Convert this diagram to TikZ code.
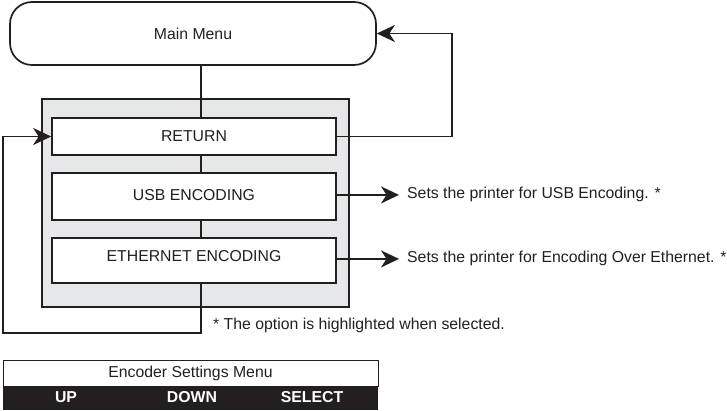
\documentclass[tikz,border=0pt]{standalone}
\usepackage{fontspec}
\setmainfont{Liberation Sans}
\usetikzlibrary{arrows.meta,calc}
\definecolor{ink}{HTML}{231F20}
\definecolor{panel}{HTML}{E6E7E8}
\begin{document}
\begin{tikzpicture}[x=1pt,y=-1pt,
  every node/.style={font=\fontsize{15.8}{19}\selectfont, text=ink},
  line/.style={draw=ink, line width=1.8pt},
  arr/.style={line, -{Stealth[length=18pt,width=17pt,inset=5.5pt]}},
  menubox/.style={draw=ink, line width=1.7pt, fill=white, minimum width=284pt, inner sep=0pt},
  sidetext/.style={anchor=base west, inner sep=0pt},
  barlabel/.style={text=white, font=\fontsize{15.8}{19}\selectfont\bfseries, inner sep=0pt}
]
\useasboundingbox (0,0) rectangle (727,411);
% main menu
\node[draw=ink, line width=1.7pt, rounded corners=22pt, minimum width=366pt, minimum height=63pt, inner sep=0pt] (mm) at (193,33.5) {Main Menu};
% grey panel
\node[draw=ink, line width=1.7pt, fill=panel, minimum width=307pt, minimum height=208pt, inner sep=0pt] (panel) at (195.5,203) {};
% options
\node[menubox, minimum height=37pt] (ret) at (194,136.5) {RETURN};
\node[menubox, minimum height=47pt, text depth=4pt] (usb) at (194,196.5) {USB ENCODING};
\node[menubox, minimum height=45pt, text depth=10pt] (eth) at (194,260.5) {ETHERNET ENCODING};
% side texts
\node[sidetext] (usbT) at (407,199) {Sets the printer for USB Encoding. *};
\node[sidetext] (ethT) at (407,263) {Sets the printer for Encoding Over Ethernet. *};
\node[sidetext] (note) at (213,329) {* The option is highlighted when selected.};
% connectors
\coordinate (spine) at (201,0);
\coordinate (loopB) at (201,333);
\coordinate (loopL) at (3,333);
\coordinate (rr) at (452,0);
\draw[line] (mm.south -| spine) -- (ret.north -| spine);
\draw[line] (ret.south -| spine) -- (usb.north -| spine);
\draw[line] (usb.south -| spine) -- (eth.north -| spine);
\draw[arr] (eth.south -| spine) -- (loopB) -- (loopL) -- (loopL |- ret.west) -- (ret.west);
\draw[arr] (ret.east) -- (ret.east -| rr) -- (rr |- mm.east) -- (mm.east);
\draw[arr, shorten >=8pt] (usb.east |- usbT.west) -- (usbT.west);
\draw[arr, shorten >=8pt] (eth.east |- ethT.west) -- (ethT.west);
% bottom soft-key menu
\node[draw=ink, line width=1pt, minimum width=375pt, minimum height=26pt, inner sep=0pt] (bm) at (190.5,373) {Encoder Settings Menu};
\node[fill=ink, minimum width=375.5pt, minimum height=23pt, inner sep=0pt, anchor=north] (bar) at (bm.south) {};
\node[barlabel] (up) at (66,397.5) {UP};
\node[barlabel] (down) at (192,397.5) {DOWN};
\node[barlabel] (sel) at (312,397.5) {SELECT};
\end{tikzpicture}
\end{document}
